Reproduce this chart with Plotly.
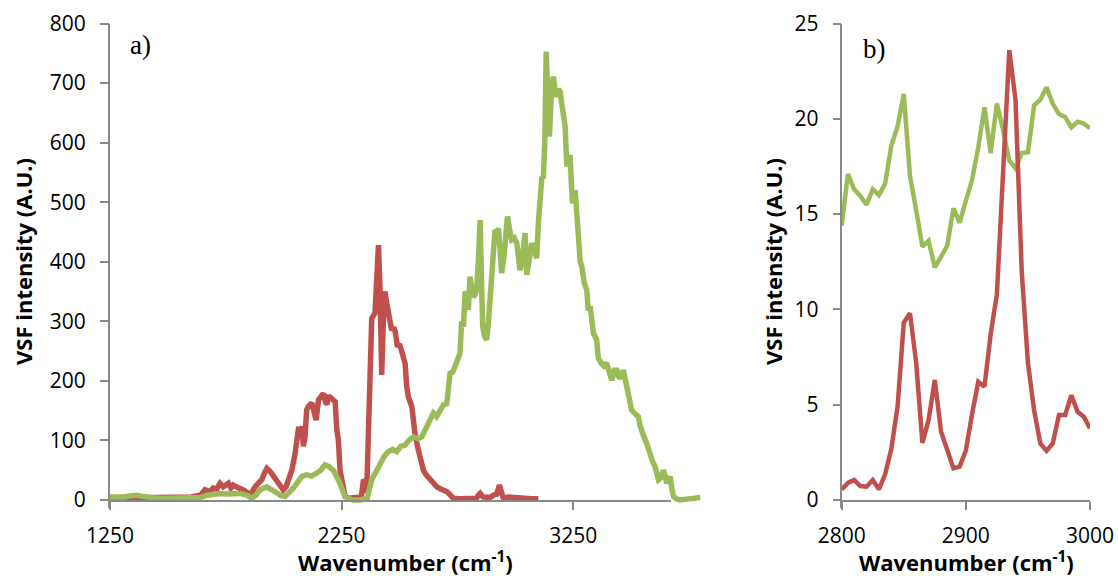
import plotly.graph_objects as go

# ---------------- Panel a data (wavenumber, VSF intensity) ----------------
red_a_wn = [1250, 1300, 1350, 1400, 1450, 1500, 1550, 1600, 1640, 1660, 1680, 1696, 1710, 1725,
            1739, 1750, 1761, 1772, 1782, 1795, 1811, 1830, 1847, 1862, 1876, 1890, 1905, 1920,
            1927, 1941, 1955, 1970, 1985, 1998, 2010, 2020, 2035, 2049, 2063, 2070, 2078, 2085,
            2092, 2099, 2106, 2121, 2130, 2140, 2150, 2160, 2171, 2180, 2186, 2193, 2200, 2214,
            2222, 2229, 2236, 2243, 2257, 2265, 2280, 2300, 2320, 2335, 2344, 2352, 2358, 2370,
            2380, 2394, 2402, 2409, 2416, 2423, 2430, 2437, 2445, 2452, 2460, 2466, 2474, 2481,
            2491, 2500, 2509, 2517, 2524, 2531, 2538, 2553, 2560, 2567, 2581, 2590, 2603, 2615,
            2632, 2645, 2661, 2680, 2704, 2720, 2732, 2760, 2800, 2833, 2840, 2848, 2860, 2877,
            2890, 2905, 2920, 2931, 2940, 2948, 2970, 3006, 3040, 3070, 3099]
red_a_val = [3, 3, 4, 3, 3, 4, 3, 5, 8, 17, 14, 20, 18, 28,
             22, 26, 28, 20, 25, 22, 20, 16, 11, 12, 22, 28, 34, 48,
             53, 48, 40, 31, 24, 17, 22, 34, 50, 78, 118, 117, 123, 90,
             106, 151, 157, 163, 145, 134, 168, 172, 179, 165, 160, 173, 173, 168,
             165, 118, 100, 50, 28, 6, 3, 3, 4, 5, 34, 30, 12, 150,
             305, 314, 380, 428, 350, 210, 300, 350, 330, 314, 295, 285, 290, 283,
             257, 262, 250, 240, 229, 190, 173, 157, 130, 110, 84, 70, 50, 42,
             34, 28, 22, 18, 14, 8, 3, 2, 2, 3, 8, 11, 5, 5,
             4, 8, 10, 25, 8, 3, 5, 3, 3, 2, 2]

green_a_wn = [1250, 1280, 1310, 1340, 1365, 1390, 1420, 1460, 1500, 1550, 1600, 1640, 1670, 1700,
              1725, 1750, 1780, 1811, 1840, 1862, 1880, 1898, 1915, 1927, 1945, 1970, 1990, 2006,
              2025, 2042, 2060, 2080, 2099, 2120, 2142, 2160, 2178, 2195, 2214, 2230, 2243, 2255,
              2265, 2280, 2300, 2330, 2360, 2380, 2400, 2416, 2435, 2452, 2470, 2488, 2505, 2524,
              2540, 2560, 2580, 2596, 2618, 2630, 2646, 2660, 2675, 2690, 2704, 2710, 2718, 2730,
              2747, 2754, 2761, 2768, 2776, 2783, 2790, 2797, 2804, 2812, 2819, 2826, 2833, 2840,
              2848, 2853, 2859, 2867, 2876, 2884, 2891, 2900, 2912, 2920, 2927, 2934, 2941, 2951,
              2958, 2966, 2975, 2984, 2995, 3006, 3013, 3020, 3028, 3035, 3042, 3049, 3060, 3071,
              3082, 3092, 3100, 3107, 3114, 3121, 3127, 3133, 3140, 3147, 3155, 3164, 3171, 3179,
              3186, 3193, 3200, 3208, 3215, 3222, 3229, 3236, 3242, 3247, 3258, 3265, 3272, 3280,
              3287, 3297, 3308, 3315, 3323, 3337, 3351, 3358, 3370, 3382, 3394, 3405, 3416, 3427,
              3438, 3445, 3452, 3466, 3473, 3481, 3490, 3502, 3516, 3531, 3538, 3546, 3556, 3567,
              3575, 3582, 3592, 3603, 3610, 3618, 3630, 3639, 3647, 3654, 3662, 3668, 3675, 3683,
              3695, 3711, 3730, 3754, 3775, 3798]
green_a_val = [5, 4, 5, 7, 8, 6, 4, 3, 3, 3, 3, 4, 8, 10,
               11, 10, 11, 11, 8, 3, 8, 17, 20, 22, 18, 11, 7, 6,
               12, 20, 30, 40, 42, 40, 45, 50, 59, 56, 50, 40, 28, 15,
               6, 2, 0, 0, 2, 34, 50, 64, 74, 81, 85, 81, 90, 92,
               100, 106, 103, 106, 126, 135, 146, 140, 151, 160, 162, 200, 213, 215,
               235, 243, 246, 300, 291, 350, 345, 319, 375, 355, 341, 345, 353, 400,
               470, 380, 291, 275, 269, 300, 336, 400, 453, 450, 456, 420, 381, 409,
               450, 476, 455, 437, 440, 431, 410, 386, 400, 420, 448, 378, 400, 431,
               420, 406, 470, 509, 540, 543, 600, 753, 650, 610, 680, 711, 690, 677,
               690, 686, 666, 640, 627, 560, 570, 579, 530, 498, 520, 470, 420, 400,
               392, 365, 353, 318, 325, 280, 269, 238, 230, 225, 230, 210, 201, 218,
               218, 208, 204, 218, 205, 190, 170, 151, 145, 140, 125, 112, 105, 95,
               85, 73, 65, 56, 45, 34, 38, 50, 40, 28, 35, 39, 20, 6,
               2, 0, 1, 1, 3, 4.5]

# ---------------- Panel b data ----------------
red_b_wn = [2800, 2805, 2810, 2815, 2820, 2825, 2830, 2835, 2840, 2845, 2850, 2855, 2860, 2865,
            2870, 2875, 2880, 2885, 2890, 2895, 2900, 2905, 2910, 2915, 2920, 2925, 2935, 2940,
            2945, 2950, 2955, 2960, 2965, 2970, 2975, 2980, 2985, 2990, 2995, 3000]
red_b_val = [0.56, 0.9, 1.05, 0.73, 0.7, 1.05, 0.56, 1.35, 2.7, 4.9, 9.3, 9.8, 7.2, 3.0,
             4.2, 6.3, 3.6, 2.6, 1.66, 1.75, 2.6, 4.5, 6.2, 5.95, 8.7, 10.8, 23.6, 21.0,
             12.0, 7.2, 4.7, 2.97, 2.58, 2.97, 4.46, 4.46, 5.5, 4.63, 4.37, 3.76]

green_b_wn = [2800, 2805, 2810, 2815, 2820, 2825, 2830, 2835, 2840, 2845, 2850, 2855, 2860, 2865,
              2870, 2875, 2880, 2885, 2890, 2895, 2900, 2905, 2910, 2915, 2920, 2925, 2930, 2935,
              2940, 2945, 2950, 2955, 2960, 2965, 2970, 2975, 2980, 2985, 2990, 2995, 3000]
green_b_val = [14.4, 17.1, 16.3, 15.95, 15.5, 16.3, 16.0, 16.6, 18.6, 19.6, 21.3, 17.0, 15.2, 13.3,
               13.6, 12.2, 12.75, 13.35, 15.3, 14.55, 15.7, 16.8, 18.5, 20.6, 18.2, 20.8, 19.4, 17.8,
               17.4, 18.2, 18.25, 20.7, 21.0, 21.65, 20.8, 20.25, 20.1, 19.55, 19.85, 19.75, 19.5]

a_xticks = [1250, 2250, 3250]
a_yticks = [0, 100, 200, 300, 400, 500, 600, 700, 800]
b_xticks = [2800, 2900, 3000]
b_yticks = [0, 5, 10, 15, 20, 25]

RED = "#C0504D"
GREEN = "#9BBB59"
AXC = "#898989"
FONT = "Open Sans"

W, H = 1118, 576
def px_x(p):
    return p / W
def px_y(p):
    return (H - p) / H

fig = go.Figure()

fig.add_trace(go.Scatter(x=red_a_wn, y=red_a_val, mode="lines", line=dict(color=RED, width=5.5),
                         xaxis="x", yaxis="y", showlegend=False))
fig.add_trace(go.Scatter(x=green_a_wn, y=green_a_val, mode="lines", line=dict(color=GREEN, width=5.5),
                         xaxis="x", yaxis="y", showlegend=False))
fig.add_trace(go.Scatter(x=green_b_wn, y=green_b_val, mode="lines", line=dict(color=GREEN, width=4.5),
                         xaxis="x2", yaxis="y2", showlegend=False))
fig.add_trace(go.Scatter(x=red_b_wn, y=red_b_val, mode="lines", line=dict(color=RED, width=4.5),
                         xaxis="x2", yaxis="y2", showlegend=False))
# empty traces to anchor decorative axes
fig.add_trace(go.Scatter(x=[], y=[], xaxis="x3", yaxis="y3", showlegend=False))
fig.add_trace(go.Scatter(x=[], y=[], xaxis="x4", yaxis="y4", showlegend=False))

tickfont = dict(family=FONT, size=21, color="black")

# panel a geometry (pixels)
a_left, a_right_data, a_right_axis = 110, 703, 670.9
a_top, a_zero, a_bottom = 23.5, 500, 508.3
# panel b geometry
b_left, b_right = 841.7, 1090

common_hidden = dict(showgrid=False, zeroline=False, showticklabels=False, ticks="", automargin=False)
deco = dict(showgrid=False, zeroline=False, automargin=False, ticks="outside", tickwidth=1.5,
            tickcolor=AXC, tickmode="array", tickfont=tickfont)

fig.update_layout(
    width=W, height=H,
    margin=dict(l=0, r=0, t=0, b=0, pad=0, autoexpand=False),
    paper_bgcolor="white", plot_bgcolor="rgba(0,0,0,0)",
    showlegend=False,
    # data axes panel a
    xaxis=dict(domain=[px_x(a_left), px_x(a_right_data)], range=[1250, 3810], anchor="y",
               showline=False, **common_hidden),
    yaxis=dict(domain=[px_y(a_bottom), px_y(a_top)], range=[-14, 800], anchor="x",
               showline=True, linecolor=AXC, linewidth=1.5, **common_hidden),
    # data axes panel b
    xaxis2=dict(domain=[px_x(b_left), px_x(b_right)], range=[2800, 3000], anchor="y2",
                showline=False, **common_hidden),
    yaxis2=dict(domain=[px_y(a_bottom), px_y(a_top)], range=[-0.435, 25], anchor="x2",
                showline=True, linecolor=AXC, linewidth=1.5, **common_hidden),
    # decorative axes panel a
    xaxis3=dict(domain=[px_x(a_left), px_x(a_right_axis)], range=[1250, 3672], anchor="y3",
                showline=True, linecolor=AXC, linewidth=1.5, ticklen=8,
                tickvals=a_xticks, ticktext=[str(v) for v in a_xticks],
                ticklabelstandoff=8, **deco),
    yaxis3=dict(domain=[px_y(a_zero), px_y(a_top)], range=[0, 800], anchor="x3",
                showline=False, ticklen=9,
                tickvals=a_yticks, ticktext=[str(v) for v in a_yticks],
                ticklabelstandoff=10, **deco),
    # decorative axes panel b
    xaxis4=dict(domain=[px_x(b_left), px_x(b_right)], range=[2800, 3000], anchor="y4",
                showline=True, linecolor=AXC, linewidth=1.5, ticklen=8,
                tickvals=b_xticks, ticktext=[str(v) for v in b_xticks],
                ticklabelstandoff=8, **deco),
    yaxis4=dict(domain=[px_y(a_zero), px_y(a_top)], range=[0, 25], anchor="x4",
                showline=False, ticklen=8,
                tickvals=b_yticks, ticktext=[str(v) for v in b_yticks],
                ticklabelstandoff=10, **deco),
)

title_font = dict(family=FONT, size=22, color="black")
annotations = [
    dict(text="<b>VSF intensity (A.U.)</b>", x=px_x(23), y=px_y(262), textangle=-90),
    dict(text="<b>VSF intensity (A.U.)</b>", x=px_x(773), y=px_y(262), textangle=-90),
    dict(text="<b>Wavenumber (cm<sup>-1</sup>)</b>", x=px_x(405), y=px_y(561)),
    dict(text="<b>Wavenumber (cm<sup>-1</sup>)</b>", x=px_x(966), y=px_y(561)),
]
for a in annotations:
    fig.add_annotation(xref="paper", yref="paper", showarrow=False, font=title_font,
                       xanchor="center", yanchor="middle", **a)

label_font = dict(family="Liberation Serif", size=27, color="black")
fig.add_annotation(text="a)", xref="paper", yref="paper", x=px_x(140), y=px_y(45),
                   showarrow=False, font=label_font, xanchor="center", yanchor="middle")
fig.add_annotation(text="b)", xref="paper", yref="paper", x=px_x(874), y=px_y(49),
                   showarrow=False, font=label_font, xanchor="center", yanchor="middle")

fig.write_html("out.html")
